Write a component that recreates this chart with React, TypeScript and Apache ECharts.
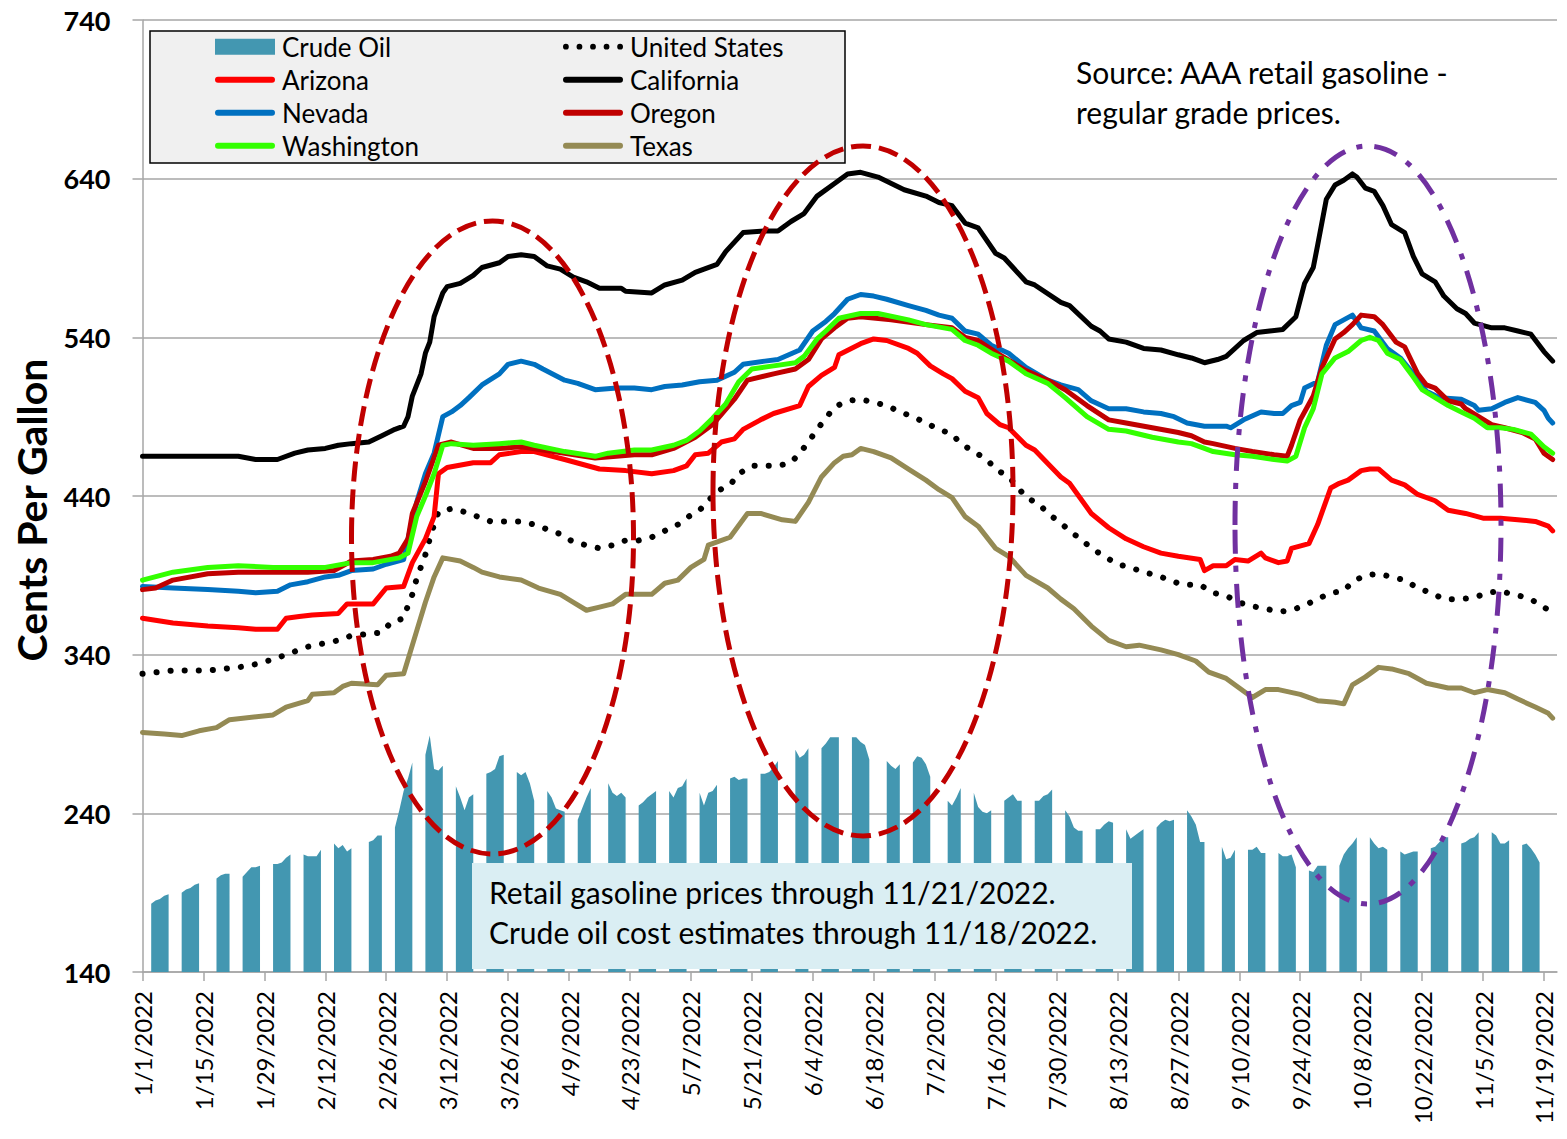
import React, { useEffect, useRef } from 'react';
import * as echarts from 'echarts';

// ---------- categories (daily, 1/1/2022 .. 11/22/2022) ----------
const START_UTC = Date.UTC(2022, 0, 1);
const DAY_COUNT = 326;
const categories: string[] = Array.from({ length: DAY_COUNT }, (_, i) => {
  const d = new Date(START_UTC + i * 86400000);
  return `${d.getUTCMonth() + 1}/${d.getUTCDate()}/${d.getUTCFullYear()}`;
});

// ---------- crude oil cost estimates (cents/gal), Mon..Fri per week from 1/3/2022 ----------
const FIRST_MONDAY = 2;
const crudeWeeks: (number | null)[][] = [
  [183, 185, 186, 188, 189],
  [190, 192, 193, 195, 196],
  [null, 199, 201, 202, 202],
  [200, 203, 206, 206, 207],
  [208, 208, 209, 212, 214],
  [214, 213, 213, 213, 217],
  [221, 218, 220, 216, 218],
  [null, 222, 223, 226, 226],
  [231, 242, 254, 262, 272],
  [277, 289, 268, 267, 270],
  [257, 250, 242, 250, 252],
  [265, 266, 268, 276, 277],
  [266, 264, 266, 259, 248],
  [254, 250, 243, 242, 241],
  [236, 243, 250, 256, null],
  [259, 253, 251, 253, 250],
  [245, 247, 250, 252, 254],
  [254, 250, 256, 257, 262],
  [253, 245, 253, 254, 258],
  [262, 263, 261, 262, 262],
  [265, 265, 266, 269, 273],
  [null, 280, 275, 277, 281],
  [281, 284, 288, 288, 288],
  [288, 288, 285, 283, 274],
  [null, 273, 270, 268, 271],
  [272, 276, 275, 271, 263],
  [null, 248, 245, 250, 256],
  [253, 244, 241, 240, 242],
  [248, 250, 252, 248, 248],
  [248, 248, 251, 252, 255],
  [242, 238, 231, 229, 229],
  [230, 230, 233, 235, 234],
  [230, 224, 226, 228, 230],
  [231, 234, 236, 235, 236],
  [242, 238, 233, 222, 222],
  [null, 219, 211, 212, 217],
  [217, 217, 219, 215, 215],
  [215, 213, 213, 214, 206],
  [204, 203, 207, 207, 207],
  [207, 214, 218, 221, 225],
  [225, 221, 218, 219, 217],
  [216, 214, 215, 216, 216],
  [218, 219, 222, 225, 225],
  [221, 222, 224, 225, 228],
  [228, 226, 221, 221, 223],
  [220, 221, 218, 214, 209],
];

// ---------- retail gasoline prices (cents/gal): [day index from 1/1/2022, value] ----------
const unitedStates: [number, number][] = [
  [0,328],[7,330],[15,330],[22,332],[26,334],[30,337],[32,339],[38,345],[45,349],[48,352],[55,354],[57,360],[60,363],[61,371],[62,378],[63,388],[65,403],[66,413],[67,422],[68,430],[71,432],[74,430],[77,427],[80,424],[87,424],[90,422],[93,419],[96,416],[99,411],[102,409],[105,407],[108,409],[111,412],[114,412],[117,414],[120,418],[123,422],[126,428],[128,431],[130,437],[132,443],[135,447],[137,454],[140,459],[143,459],[146,459],[149,461],[151,467],[153,474],[155,482],[157,489],[159,496],[162,500],[165,501],[168,499],[171,497],[174,493],[177,490],[180,486],[183,482],[186,479],[188,473],[191,468],[194,463],[196,457],[199,452],[201,446],[203,439],[206,435],[208,429],[211,423],[213,418],[216,412],[218,407],[221,402],[224,397],[227,395],[230,392],[233,390],[236,387],[239,384],[243,384],[246,379],[249,377],[252,373],[254,371],[258,369],[261,367],[264,368],[267,371],[270,375],[273,379],[276,380],[278,386],[281,390],[284,391],[287,389],[290,387],[293,382],[296,379],[299,375],[303,375],[306,376],[309,379],[312,380],[315,378],[318,376],[321,372],[324,366],
];
const arizona: [number, number][] = [
  [0,363],[7,360],[15,358],[22,357],[26,356],[31,356],[33,363],[36,364],[39,365],[45,366],[47,372],[53,372],[56,382],[60,383],[62,398],[65,413],[67,427],[68,454],[70,458],[76,461],[80,461],[82,466],[87,468],[90,468],[97,463],[105,457],[111,456],[117,454],[122,456],[125,459],[127,466],[130,467],[133,474],[136,476],[138,482],[142,488],[145,492],[151,497],[153,509],[156,516],[159,521],[160,529],[165,536],[168,539],[171,538],[176,533],[178,530],[181,522],[184,517],[186,514],[189,506],[192,502],[194,492],[197,485],[199,483],[203,472],[205,469],[211,452],[213,448],[218,429],[222,420],[226,413],[230,408],[234,404],[238,402],[243,400],[244,393],[246,396],[249,396],[251,400],[254,399],[257,404],[258,401],[261,398],[263,399],[264,407],[268,410],[270,422],[273,445],[275,448],[277,450],[280,456],[282,457],[284,457],[287,450],[290,447],[293,441],[297,437],[300,431],[304,429],[308,426],[312,426],[316,425],[320,424],[323,421],[324,418],
];
const california: [number, number][] = [
  [0,465],[15,465],[22,465],[26,463],[31,463],[35,467],[38,469],[42,470],[45,472],[48,473],[52,474],[55,478],[58,482],[60,484],[61,490],[62,503],[64,517],[65,530],[66,537],[67,553],[69,568],[70,572],[73,574],[76,579],[78,584],[82,587],[84,591],[87,592],[90,591],[93,585],[96,583],[99,578],[102,575],[105,571],[110,571],[111,569],[117,568],[120,573],[124,576],[127,581],[132,586],[134,594],[138,606],[143,607],[146,607],[149,613],[152,618],[155,629],[159,637],[162,643],[165,644],[169,641],[175,633],[180,629],[183,625],[186,623],[189,612],[192,609],[196,593],[198,590],[203,575],[205,573],[211,562],[213,560],[218,547],[220,544],[222,539],[226,537],[230,533],[234,532],[238,529],[241,527],[244,524],[247,526],[249,528],[253,538],[256,543],[259,544],[262,545],[265,553],[267,574],[269,584],[270,598],[272,627],[274,636],[276,639],[278,643],[279,641],[281,634],[283,632],[285,623],[287,611],[290,606],[292,591],[294,580],[297,575],[299,566],[302,558],[304,555],[306,549],[310,546],[313,546],[316,544],[319,542],[322,531],[324,525],
];
const nevada: [number, number][] = [
  [0,383],[7,382],[15,381],[22,380],[26,379],[31,380],[34,384],[38,386],[42,389],[45,390],[48,393],[53,394],[56,397],[60,400],[61,413],[63,436],[65,454],[67,467],[69,490],[71,493],[73,497],[75,502],[78,510],[82,517],[84,523],[87,525],[90,523],[92,520],[97,513],[100,511],[104,507],[109,508],[113,508],[117,507],[120,509],[124,510],[128,512],[132,513],[136,518],[138,523],[143,525],[146,526],[151,532],[154,544],[157,550],[159,555],[162,564],[165,567],[168,566],[171,564],[176,560],[180,557],[183,554],[186,552],[189,544],[192,542],[195,535],[199,530],[203,521],[208,513],[211,510],[215,507],[218,500],[222,495],[226,495],[230,493],[234,492],[237,490],[240,486],[244,484],[249,484],[250,483],[253,488],[257,493],[260,492],[262,492],[264,497],[266,499],[267,508],[270,512],[272,535],[274,548],[276,551],[278,554],[280,546],[283,544],[286,533],[289,527],[292,517],[295,506],[298,502],[303,501],[306,497],[307,494],[310,495],[313,499],[316,502],[320,499],[322,494],[323,489],[324,486],
];
const oregon: [number, number][] = [
  [0,381],[3,382],[7,387],[15,391],[22,392],[30,392],[38,392],[44,393],[48,399],[53,400],[57,402],[59,404],[61,413],[62,429],[65,449],[68,472],[71,474],[76,470],[82,470],[87,471],[97,467],[104,464],[113,466],[117,466],[122,470],[127,477],[131,485],[136,501],[139,513],[145,517],[150,520],[153,526],[156,539],[159,546],[162,552],[165,553],[172,551],[180,548],[186,546],[189,540],[192,538],[197,529],[203,519],[208,513],[212,507],[217,497],[222,488],[226,486],[232,483],[238,480],[241,478],[244,474],[246,473],[251,470],[255,468],[260,466],[263,465],[264,472],[266,488],[269,503],[271,521],[274,539],[276,543],[278,548],[280,554],[283,553],[285,548],[288,537],[290,534],[293,517],[295,510],[297,508],[300,500],[303,498],[304,495],[307,490],[310,485],[313,483],[317,480],[320,476],[322,467],[324,463],
];
const washington: [number, number][] = [
  [0,387],[7,392],[15,395],[22,396],[30,395],[38,395],[42,395],[48,398],[53,398],[59,401],[61,404],[63,427],[65,440],[67,454],[69,472],[71,473],[76,472],[82,473],[87,474],[90,472],[97,468],[104,465],[107,467],[113,469],[117,469],[122,472],[125,475],[128,481],[131,489],[134,498],[137,512],[140,520],[145,522],[150,524],[152,528],[155,539],[157,544],[160,552],[165,555],[169,555],[176,551],[180,548],[186,545],[189,538],[192,535],[195,530],[199,525],[203,517],[208,511],[212,502],[217,490],[222,482],[226,481],[232,477],[238,474],[241,473],[244,470],[246,468],[251,466],[255,465],[260,463],[263,462],[265,465],[267,483],[269,495],[271,517],[274,527],[277,531],[280,538],[282,540],[284,538],[286,530],[289,526],[292,515],[294,507],[297,502],[300,497],[303,493],[306,489],[309,483],[312,483],[315,482],[319,479],[322,471],[324,467],
];
const texas: [number, number][] = [
  [0,291],[5,290],[9,289],[13,292],[17,294],[20,299],[30,302],[33,307],[38,311],[39,315],[44,316],[46,320],[48,322],[54,321],[56,327],[60,328],[61,337],[63,355],[65,373],[67,389],[69,401],[73,399],[76,395],[78,392],[82,389],[87,387],[91,382],[96,378],[99,373],[102,368],[105,370],[108,372],[111,378],[117,378],[120,385],[123,387],[126,395],[129,400],[130,409],[135,414],[139,429],[142,429],[147,425],[150,424],[153,436],[156,452],[159,461],[161,465],[163,466],[165,470],[168,468],[172,464],[176,457],[180,450],[183,444],[186,439],[189,427],[192,421],[196,407],[199,402],[203,390],[208,382],[211,375],[214,369],[218,358],[222,349],[226,345],[229,346],[234,343],[238,340],[242,336],[245,329],[249,325],[252,319],[255,313],[258,318],[261,318],[266,315],[270,311],[274,310],[276,309],[278,321],[281,326],[284,332],[287,331],[291,328],[295,322],[300,319],[303,319],[306,316],[309,318],[313,316],[316,312],[320,307],[323,303],[324,300],
];

const yTicks = { min: 140, max: 740, step: 100 };

const legendCol1 = ['Crude Oil', 'Arizona', 'Nevada', 'Washington'];
const legendCol2 = ['United States', 'California', 'Oregon', 'Texas'];

const COLORS: Record<string, string> = {
  'Crude Oil': '#4397B1',
  'United States': '#000000',
  Arizona: '#FF0000',
  California: '#000000',
  Nevada: '#0070C0',
  Oregon: '#C00000',
  Washington: '#33FF00',
  Texas: '#948A54',
};

const FONT = 'Lato, "Open Sans", sans-serif';
const BAR_ICON = 'path://M3,0H57A3,3 0 0 1 57,6H3A3,3 0 0 1 3,0Z';
const DOT_ICON =
  'path://' +
  [0, 14, 28, 42, 56].map((o) => `M${o},3a3,3 0 1,0 6,0a3,3 0 1,0 -6,0Z`).join('');

function iconFor(name: string) {
  if (name === 'Crude Oil') return 'rect';
  if (name === 'United States') return DOT_ICON;
  return BAR_ICON;
}

export default function App() {
  const ref = useRef<HTMLDivElement>(null);

  useEffect(() => {
    if (!ref.current) return;
    const chart = echarts.init(ref.current, undefined, { renderer: 'svg' });

    const crudeData: (number | null)[] = categories.map(() => null);
    crudeWeeks.forEach((week, wi) =>
      week.forEach((v, di) => {
        crudeData[FIRST_MONDAY + wi * 7 + di] = v;
      })
    );

    const lineSeries = (name: string, data: [number, number][], extra: any = {}) => ({
      type: 'line',
      name,
      data,
      symbol: 'none',
      color: COLORS[name],
      z: 3,
      lineStyle: { width: 5, color: COLORS[name], cap: 'round', join: 'round', ...extra },
    });

    const legendBase = {
      orient: 'vertical',
      top: 33.7,
      itemWidth: 60,
      itemHeight: 16,
      itemGap: 7,
      padding: 0,
      selectedMode: false,
      symbolKeepAspect: true,
      itemStyle: { borderWidth: 0 },
      textStyle: { fontSize: 26, lineHeight: 26, color: '#000', fontFamily: FONT, padding: [0, 0, 0, 2] },
    };

    const option: any = {
      animation: false,
      backgroundColor: '#ffffff',
      grid: { left: 142.5, right: 10, top: 20, bottom: 167, containLabel: false },
      legend: [
        { ...legendBase, left: 215, data: legendCol1.map((n) => ({ name: n, icon: iconFor(n) })) },
        { ...legendBase, left: 563, data: legendCol2.map((n) => ({ name: n, icon: iconFor(n) })) },
      ],
      xAxis: {
        type: 'category',
        data: categories,
        boundaryGap: false,
        axisLine: { show: true, lineStyle: { color: '#A6A6A6', width: 1.5 } },
        axisTick: { show: true, interval: 13, length: 9, lineStyle: { color: '#A6A6A6', width: 1.5 } },
        axisLabel: {
          interval: 13,
          rotate: 90,
          fontSize: 24,
          fontFamily: FONT,
          color: '#000',
          margin: 19,
        },
        splitLine: { show: false },
      },
      yAxis: {
        type: 'value',
        min: yTicks.min,
        max: yTicks.max,
        interval: yTicks.step,
        axisLine: { show: true, lineStyle: { color: '#A6A6A6', width: 1.5 } },
        axisTick: { show: true, length: 10, lineStyle: { color: '#A6A6A6', width: 1.5 } },
        axisLabel: { fontSize: 27, fontWeight: 'bold', fontFamily: FONT, color: '#000', margin: 32 },
        splitLine: { show: true, lineStyle: { color: '#A6A6A6', width: 1.5 } },
      },
      series: [
        {
          type: 'line',
          name: 'Crude Oil',
          data: crudeData,
          symbol: 'none',
          connectNulls: false,
          color: COLORS['Crude Oil'],
          z: 1,
          lineStyle: { width: 0 },
          areaStyle: { color: COLORS['Crude Oil'], opacity: 1, origin: 'start' },
        },
        lineSeries('United States', unitedStates, { width: 6, type: [0.1, 14], cap: 'round' }),
        lineSeries('Arizona', arizona),
        lineSeries('California', california),
        lineSeries('Nevada', nevada),
        lineSeries('Oregon', oregon),
        lineSeries('Washington', washington),
        lineSeries('Texas', texas),
      ],
      graphic: [
        {
          type: 'text',
          z: 30,
          x: 31,
          y: 510,
          rotation: Math.PI / 2,
          style: {
            text: 'Cents Per Gallon',
            fill: '#000',
            font: `bold 41px ${FONT}`,
            align: 'center',
            verticalAlign: 'middle',
          },
        },
        {
          type: 'rect',
          z: 1,
          shape: { x: 150, y: 31, width: 695, height: 132 },
          style: { fill: '#F0F0F0', stroke: '#000', lineWidth: 1.5 },
        },
        {
          type: 'text',
          z: 30,
          x: 1076,
          y: 72,
          style: {
            text: 'Source: AAA retail gasoline -',
            fill: '#000',
            font: `30px ${FONT}`,
            verticalAlign: 'middle',
          },
        },
        {
          type: 'text',
          z: 30,
          x: 1076,
          y: 112,
          style: {
            text: 'regular grade prices.',
            fill: '#000',
            font: `30px ${FONT}`,
            verticalAlign: 'middle',
          },
        },
        {
          type: 'rect',
          z: 10,
          shape: { x: 472, y: 863, width: 660, height: 106 },
          style: { fill: '#DAEEF3' },
        },
        {
          type: 'text',
          z: 11,
          x: 489,
          y: 892,
          style: {
            text: 'Retail gasoline prices through 11/21/2022.',
            fill: '#000',
            font: `30px ${FONT}`,
            verticalAlign: 'middle',
          },
        },
        {
          type: 'text',
          z: 11,
          x: 489,
          y: 932,
          style: {
            text: 'Crude oil cost estimates through 11/18/2022.',
            fill: '#000',
            font: `30px ${FONT}`,
            verticalAlign: 'middle',
          },
        },
        {
          type: 'ellipse',
          z: 20,
          shape: { cx: 492.5, cy: 537.5, rx: 141, ry: 316.5 },
          style: { fill: 'none', stroke: '#C00000', lineWidth: 5, lineDash: [20, 8] },
        },
        {
          type: 'ellipse',
          z: 20,
          shape: { cx: 863, cy: 491, rx: 150, ry: 345 },
          style: { fill: 'none', stroke: '#C00000', lineWidth: 5, lineDash: [20, 8] },
        },
        {
          type: 'ellipse',
          z: 20,
          shape: { cx: 1368, cy: 525, rx: 133, ry: 379 },
          style: { fill: 'none', stroke: '#7030A0', lineWidth: 5, lineDash: [24, 12, 6, 12] },
        },
      ],
    };

    chart.setOption(option);
    return () => chart.dispose();
  }, []);

  return (
    <div
      ref={ref}
      style={{ position: 'fixed', left: 0, top: 0, width: '1567px', height: '1139px', background: '#fff' }}
    />
  );
}
